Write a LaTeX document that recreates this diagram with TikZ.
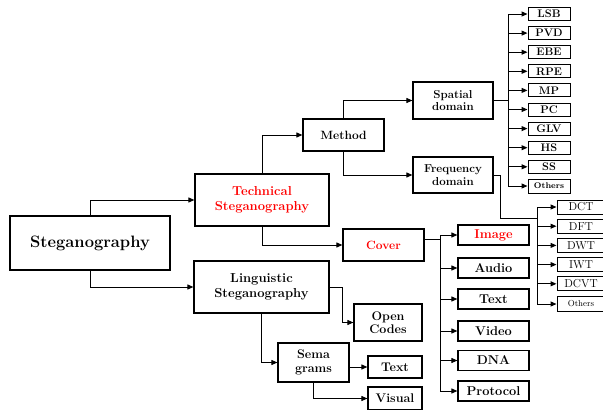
\documentclass[tikz,border=0pt]{standalone}
\usepackage{fontspec}
\usepackage{tikz}
\usetikzlibrary{arrows.meta,calc}

\begin{document}
\begin{tikzpicture}[x=1pt,y=-1pt,>={Triangle[length=6pt,width=5pt]},
    box/.style={draw,line width=1.2pt,fill=white,align=center,inner sep=1pt,
      font=\fontsize{12}{13.5}\selectfont\bfseries},
    hot/.style={text=red},
    leaf/.style={box,line width=1pt,minimum width=42pt,minimum height=13pt,
      font=\fontsize{11}{12}\selectfont\bfseries},
    media/.style={box,minimum width=71pt,minimum height=20pt,
      font=\fontsize{12.8}{14}\selectfont\bfseries},
    every path/.style={line width=1pt}]

    \useasboundingbox (0,0) rectangle (603,410);

    \node (steg) [box,minimum width=160pt,minimum height=54pt,
      font=\fontsize{16.5}{18}\selectfont\bfseries] at (90,243) {Steganography};
    \node (tech) [box,hot,minimum width=134pt,minimum height=52pt,
      font=\fontsize{13}{15}\selectfont\bfseries] at (262,200)
      {Technical\\Steganography};
    \node (ling) [box,minimum width=135pt,minimum height=52pt,
      font=\fontsize{13}{15}\selectfont\bfseries] at (261.5,287)
      {Linguistic\\Steganography};

    \node (method) [box,minimum width=81pt,minimum height=32pt] at (343.5,135) {Method};
    \node (cover) [box,hot,minimum width=81pt,minimum height=32pt] at (383.5,245) {Cover};

    \node (spatial) [box,minimum width=80pt,minimum height=37pt,
      font=\fontsize{11.5}{12.5}\selectfont\bfseries] at (453,100.5) {Spatial\\domain};
    \node (freq) [box,minimum width=80pt,minimum height=36pt,
      font=\fontsize{11.5}{12.5}\selectfont\bfseries] at (453,175) {Frequency\\domain};

    \draw[->](steg.north) |- (tech.west);
    \draw[->](steg.south) |- (ling.west);
    \draw[->](tech.north) |- (method.west);
    \draw[->](tech.south) |- (cover.west);
    \draw[->](method.north) |- (spatial.west);
    \draw[->](method.south) |- (freq.west);

    % spatial domain methods
    \coordinate (sbus) at (508,100.5);
    \draw (spatial.east) -- (sbus);
    \foreach \name [count=\i from 0] in {LSB,PVD,EBE,RPE,MP,PC,GLV,HS,SS}
    {
      \node (s\i) [leaf] at (549,14+19.1*\i) {\name};
      \draw[->](sbus) |- (s\i.west);
    }
    \node (s9) [leaf,minimum height=14pt,font=\fontsize{8.3}{9}\selectfont\bfseries]
      at (549,186) {Others};
    \draw[->](sbus) |- (s9.west);

    % frequency domain methods
    \coordinate (fbus) at (537,218);
    \draw (freq.east) -- ++(7,0) |- (fbus);
    \foreach \name [count=\i from 0] in {DCT,DFT,DWT,IWT,DCVT}
    {
      \node (f\i) [leaf,minimum width=48pt,minimum height=14pt,
        font=\fontsize{11.5}{12}\selectfont] at (581,207+19.2*\i) {\name};
      \draw[->](fbus) |- (f\i.west);
    }
    \node (f5) [leaf,minimum width=48pt,minimum height=15pt,
      font=\fontsize{8.7}{9.5}\selectfont] at (581,304) {Others};
    \draw[->](fbus) |- (f5.west);

    % cover media
    \coordinate (cbus) at (440,239);
    \draw (cover.east |- cbus) -- (cbus);
    \node (image) [media,hot] at (493.5,235) {Image};
    \node (audio) [media] at (493.5,268) {Audio};
    \node (text) [media] at (493.5,299) {Text};
    \node (video) [media] at (493.5,331) {Video};
    \node (dna) [media] at (493.5,360.5) {DNA};
    \node (protocol) [media] at (493.5,391) {Protocol};
    \foreach \m in {image,audio,text,video,dna,protocol}
      \draw[->](cbus) |- (\m.west);

    % linguistic branch
    \node (open) [box,minimum width=68pt,minimum height=37pt,
      font=\fontsize{12.5}{13.5}\selectfont\bfseries] at (388,322.5) {Open\\Codes};
    \node (sema) [box,minimum width=71pt,minimum height=39pt,
      font=\fontsize{12.5}{13.5}\selectfont\bfseries] at (313.5,362.5) {Sema\\grams};
    \node (stext) [box,minimum width=54pt,minimum height=22pt,
      font=\fontsize{12.5}{13.5}\selectfont\bfseries] at (395,367) {Text};
    \node (visual) [box,minimum width=54pt,minimum height=23pt,
      font=\fontsize{12.5}{13.5}\selectfont\bfseries] at (395,398.5) {Visual};

    \draw[->](ling.east) -- ++(13,0) |- (open.west);
    \draw[->](ling.south) |- (sema.west);
    \draw[->](sema.east |- stext.west) -- (stext.west);
    \draw[->](sema.south) |- (visual.west);
  \end{tikzpicture}
\end{document}
